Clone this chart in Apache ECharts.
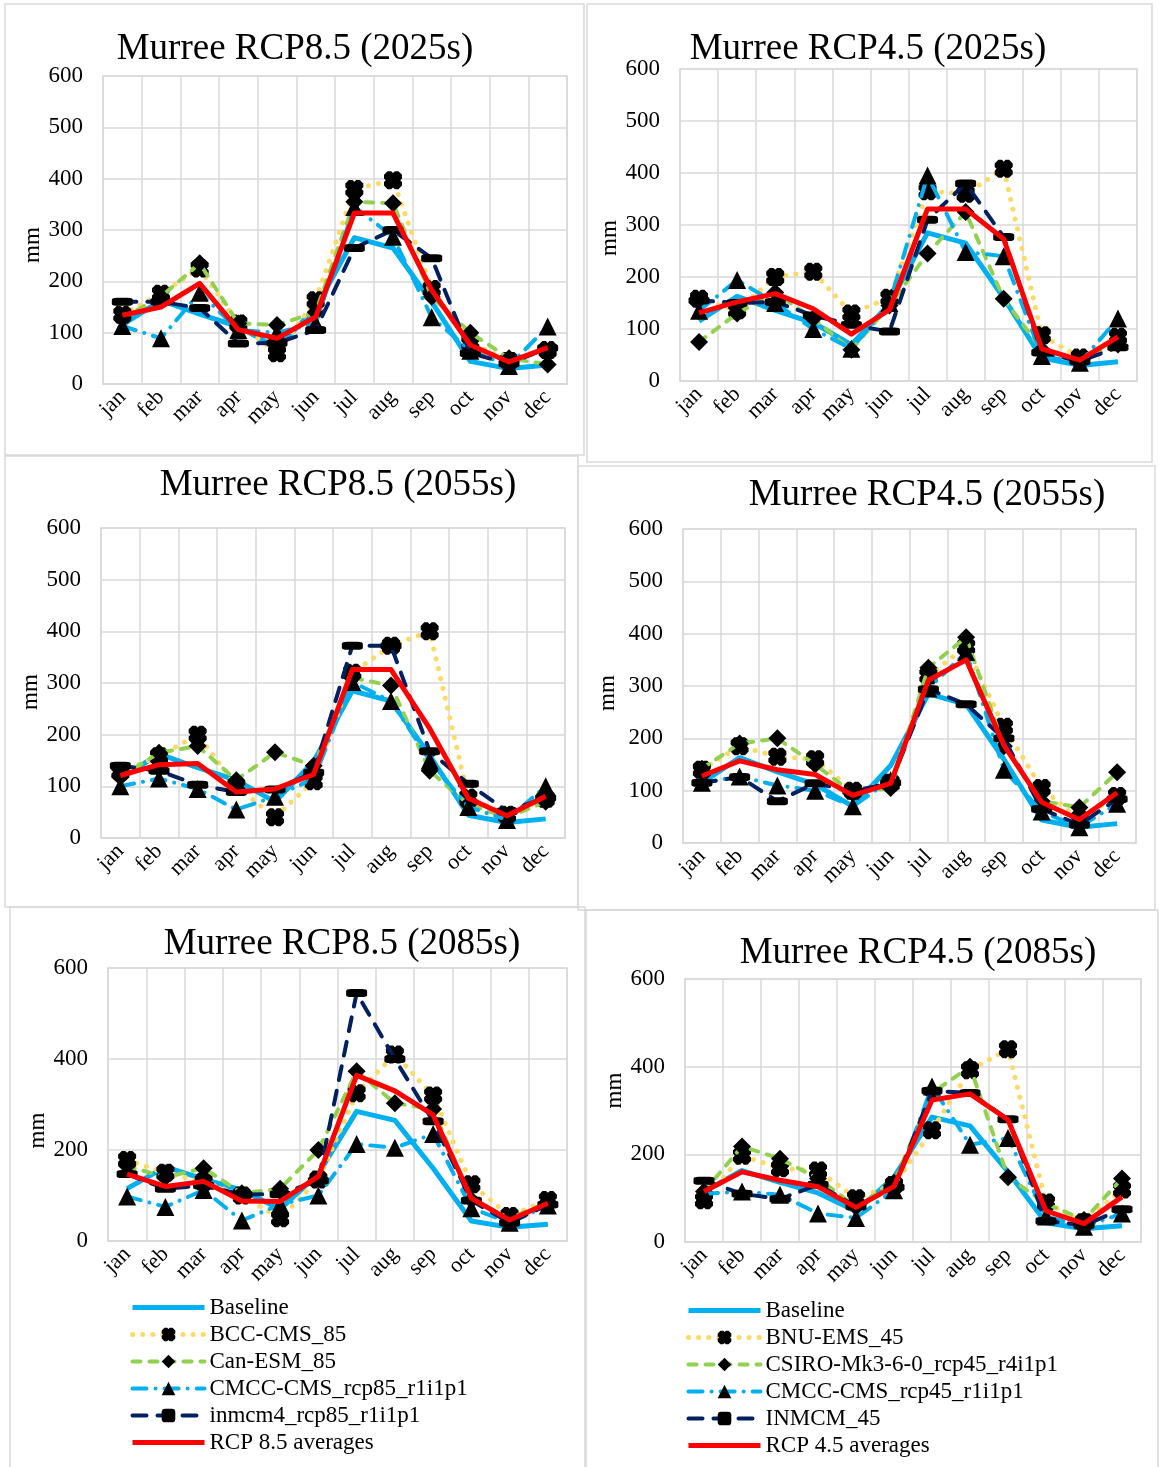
<!DOCTYPE html>
<html>
<head>
<meta charset="utf-8">
<script src="https://cdn.jsdelivr.net/npm/echarts@6/dist/echarts.min.js"></script>
<style>
html,body{margin:0;padding:0;background:#fff;}
#chart{width:1159px;height:1467px;}
</style>
</head>
<body>
<div id="chart"></div>
<script>
const months = ['jan','feb','mar','apr','may','jun','jul','aug','sep','oct','nov','dec'];

const baseline = [115, 163, 136, 112, 70, 148, 285, 265, 160, 44, 30, 37];

// RCP 8.5 — 2025s
const bcc85_2025  = [135, 176, 225, 118, 60, 163, 380, 397, 185, 80, 45, 66];
const can85_2025  = [128, 170, 235, 118, 115, 140, 355, 352, 170, 100, 50, 38];
const cmcc85_2025 = [113, 89, 178, 105, 100, 118, 345, 287, 130, 65, 35, 112];
const inm85_2025  = [160, 160, 148, 79, 80, 105, 265, 300, 245, 60, 40, 70];
const avg85_2025  = [134, 150, 196, 106, 89, 131, 333, 333, 183, 76, 43, 71];

// RCP 4.5 — 2025s
const bnu45_2025   = [158, 136, 200, 210, 130, 160, 365, 360, 408, 88, 45, 85];
const csiro45_2025 = [75, 130, 170, 120, 60, 145, 245, 325, 158, 60, 40, 70];
const cmcc45_2025  = [135, 194, 150, 100, 62, 150, 395, 248, 240, 48, 35, 120];
const inm45_2025   = [155, 150, 152, 126, 108, 95, 310, 380, 277, 55, 38, 65];
const avg45_2025   = [131, 152, 168, 139, 90, 137, 331, 331, 273, 62, 40, 85];

// RCP 8.5 — 2055s
const bcc85_2055  = [128, 158, 200, 100, 40, 110, 320, 372, 400, 78, 45, 76];
const can85_2055  = [118, 165, 178, 112, 166, 140, 310, 295, 130, 65, 40, 70];
const cmcc85_2055 = [100, 115, 95, 55, 80, 115, 302, 265, 150, 60, 35, 100];
const inm85_2055  = [140, 130, 103, 89, 94, 127, 372, 372, 168, 105, 52, 78];
const avg85_2055  = [121, 142, 144, 89, 95, 123, 326, 326, 212, 77, 43, 81];

// RCP 4.5 — 2055s
const bnu45_2055   = [140, 185, 165, 160, 100, 115, 320, 375, 222, 105, 45, 90];
const csiro45_2055 = [142, 190, 200, 150, 95, 105, 335, 393, 185, 80, 68, 135];
const cmcc45_2055  = [115, 127, 110, 100, 70, 120, 295, 365, 140, 60, 30, 75];
const inm45_2055   = [115, 126, 80, 114, 99, 115, 294, 265, 200, 65, 35, 84];
const avg45_2055   = [128, 157, 140, 131, 91, 114, 311, 350, 187, 78, 45, 96];

// RCP 8.5 — 2085s
const bcc85_2085  = [178, 150, 130, 100, 50, 135, 325, 410, 320, 125, 55, 90];
const can85_2085  = [165, 140, 160, 105, 115, 200, 373, 303, 290, 90, 50, 85];
const cmcc85_2085 = [98, 75, 112, 45, 80, 100, 213, 205, 235, 72, 40, 78];
const inm85_2085  = [147, 115, 122, 102, 103, 133, 545, 400, 263, 89, 40, 80];
const avg85_2085  = [147, 120, 131, 88, 87, 142, 364, 330, 277, 94, 46, 83];

// RCP 4.5 — 2085s
const bnu45_2085   = [95, 197, 168, 163, 100, 130, 255, 392, 440, 90, 45, 120];
const csiro45_2085 = [115, 218, 190, 145, 80, 135, 340, 400, 148, 88, 50, 145];
const cmcc45_2085  = [110, 115, 108, 65, 55, 118, 355, 222, 237, 58, 35, 65];
const inm45_2085   = [140, 110, 98, 131, 81, 125, 345, 340, 280, 48, 38, 75];
const avg45_2085   = [115, 160, 141, 126, 79, 127, 324, 338, 279, 71, 42, 103];

const yMax = 600;
const yStepTop = 100;     // panels 2025s & 2055s
const yStepBottom = 200;  // panels 2085s

const names85 = ['Baseline','BCC-CMS_85','Can-ESM_85','CMCC-CMS_rcp85_r1i1p1','inmcm4_rcp85_r1i1p1','RCP 8.5 averages'];
const names45 = ['Baseline','BNU-EMS_45','CSIRO-Mk3-6-0_rcp45_r4i1p1','CMCC-CMS_rcp45_r1i1p1','INMCM_45','RCP 4.5 averages'];

const titles = [
  'Murree RCP8.5 (2025s)','Murree RCP4.5 (2025s)',
  'Murree RCP8.5 (2055s)','Murree RCP4.5 (2055s)',
  'Murree RCP8.5 (2085s)','Murree RCP4.5 (2085s)'
];

const panelData = [
  [bcc85_2025, can85_2025, cmcc85_2025, inm85_2025, avg85_2025],
  [bnu45_2025, csiro45_2025, cmcc45_2025, inm45_2025, avg45_2025],
  [bcc85_2055, can85_2055, cmcc85_2055, inm85_2055, avg85_2055],
  [bnu45_2055, csiro45_2055, cmcc45_2055, inm45_2055, avg45_2055],
  [bcc85_2085, can85_2085, cmcc85_2085, inm85_2085, avg85_2085],
  [bnu45_2085, csiro45_2085, cmcc45_2085, inm45_2085, avg45_2085]
];

// ---------- layout / style ----------
const FONT = "'Liberation Serif','Times New Roman',serif";
const GRID = '#d9d9d9';
const grids = [
  {left:103, top:76,  width:464, height:308},
  {left:680, top:69,  width:457, height:312},
  {left:101, top:528, width:464, height:310},
  {left:683, top:529, width:453, height:314},
  {left:108, top:968, width:459, height:273},
  {left:685, top:979, width:456, height:263}
];
const titlePos = [[295,31],[868,31],[338,467],[927,477],[342,926],[918,935]];
const nameGaps = [56,50,54,64,54,56];
const namePads = [[0,30,0,0],[0,26,0,0],[0,18,0,0],[0,14,0,0],[0,52,0,0],[0,0,0,40]];
const panelBoxes = [
  [5,4,579,451],[587,4,565,458],
  [5,456,573,451],[578,466,577,444],
  [10,907,575,570],[586,910,572,567]
];

const blob = 'path://M2,0 L4,0 L5,1 L6,0 L8,0 L10,2 L10,4 L9,5 L10,6 L10,8 L8,10 L6,10 L5,9 L4,10 L2,10 L0,8 L0,6 L1,5 L0,4 L0,2 Z';
const lineIcon = 'path://M0,0 L72,0 L72,5 L0,5 Z';
const styles = [
  {color:'#00B0F0', width:5, type:'solid', symbol:'none'},
  {color:'#FFD966', width:5, type:[0.1,10], cap:'round', symbol:blob, symbolSize:18},
  {color:'#92D050', width:4, type:[8,9], cap:'round', symbol:'diamond', symbolSize:18},
  {color:'#00B0F0', width:4, type:[14,9,0.1,9], cap:'round', symbol:'triangle', symbolSize:18},
  {color:'#002060', width:4, type:[14,11], cap:'round', symbol:'roundRect', symbolSize:[21,8]},
  {color:'#FF0000', width:5, type:'solid', symbol:'none'}
];

const grid = [], xAxis = [], yAxis = [], title = [], series = [], graphic = [];
grids.forEach((g, i) => {
  grid.push(Object.assign({show:true, borderColor:GRID, borderWidth:1.5}, g));
  xAxis.push({
    gridIndex:i, type:'category', data:months, boundaryGap:true,
    axisLine:{show:true, lineStyle:{color:GRID, width:1.5}},
    axisTick:{show:false},
    splitLine:{show:true, interval:0, lineStyle:{color:GRID, width:1.5}},
    axisLabel:{interval:0, rotate:45, fontSize:22, fontFamily:FONT, color:'#000', margin:10}
  });
  yAxis.push({
    gridIndex:i, type:'value', min:0, max:yMax, interval: i >= 4 ? yStepBottom : yStepTop,
    name:'mm', nameLocation:'middle', nameGap:nameGaps[i], nameRotate:90,
    nameTextStyle:{fontSize:23, fontFamily:FONT, color:'#000', padding:namePads[i]},
    axisLine:{show:false}, axisTick:{show:false},
    splitLine:{show:true, lineStyle:{color:GRID, width:1.5}},
    axisLabel:{fontSize:23, fontFamily:FONT, color:'#000', margin:20}
  });
  title.push({
    text:titles[i], left:titlePos[i][0], top:titlePos[i][1], textAlign:'center', padding:0,
    textStyle:{fontSize:37, fontWeight:'normal', fontFamily:FONT, color:'#000'}
  });
  const names = (i % 2 === 0) ? names85 : names45;
  const dataSets = [baseline].concat(panelData[i]);
  dataSets.forEach((d, k) => {
    const s = styles[k];
    const noSym = s.symbol === 'none';
    series.push({
      name:names[k], type:'line', xAxisIndex:i, yAxisIndex:i, data:d,
      symbol:s.symbol, symbolSize:s.symbolSize || 0, showSymbol: !noSym,
      lineStyle:{color:s.color, width:s.width, type:s.type, cap:s.cap || 'butt', join:'round'},
      itemStyle: noSym ? {color:s.color} : {color:'#000', borderColor:'#000', borderWidth:0},
      emphasis:{disabled:true}, z: 2 + k
    });
  });
  const b = panelBoxes[i];
  graphic.push({type:'rect', silent:true, shape:{x:b[0], y:b[1], width:b[2], height:b[3]},
    style:{fill:'none', stroke:GRID, lineWidth:1.5}, z:-10});
});

function legendData(names) {
  return names.map((n, k) => (k === 0 || k === 5) ? {name:n, icon:lineIcon} : {name:n});
}
const legendBase = {
  orient:'vertical', itemWidth:72, itemHeight:17, itemGap:4, padding:0,
  lineStyle:{width:'inherit', type:'inherit', cap:'inherit'},
  textStyle:{fontSize:23, fontFamily:FONT, color:'#000', lineHeight:23}
};
const legend = [
  Object.assign({}, legendBase, {left:130, top:1296, data:legendData(names85)}),
  Object.assign({}, legendBase, {left:686, top:1299, data:legendData(names45)})
];

const chart = echarts.init(document.getElementById('chart'), null, {renderer:'canvas'});
chart.setOption({
  animation:false, backgroundColor:'#fff',
  title, grid, xAxis, yAxis, legend, series, graphic
});
</script>
</body>
</html>
